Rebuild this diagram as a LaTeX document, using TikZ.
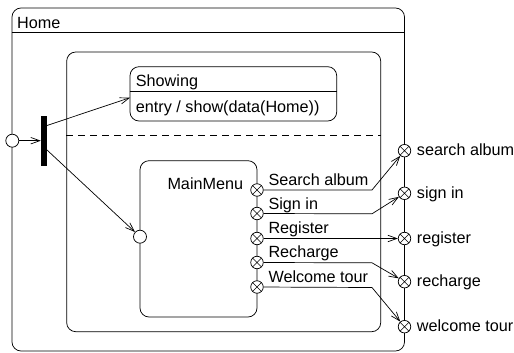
\documentclass[tikz,border=0pt]{standalone}
\usepackage{fontspec}
\setmainfont{Liberation Sans}
\usetikzlibrary{arrows.meta}
\tikzset{
  statebox/.style={draw, rounded corners=9pt, inner sep=0pt, line width=0.75pt},
  pseudo/.style={draw, circle, fill=white, minimum size=13pt, inner sep=0pt, line width=0.75pt},
  exitpt/.style={draw, circle, fill=white, minimum size=12.5pt, inner sep=0pt, line width=0.75pt,
    path picture={\draw[line width=0.6pt] (path picture bounding box.north west) -- (path picture bounding box.south east)
      (path picture bounding box.north east) -- (path picture bounding box.south west);}},
  lbl/.style={anchor=base west, inner sep=0pt, font=\fontsize{16.2}{19}\selectfont},
  trans/.style={line width=0.7pt, -{Straight Barb[length=9pt,width=6.5pt]}},
  wire/.style={line width=0.7pt}
}
\begin{document}
\begin{tikzpicture}[x=1pt,y=-1pt]
\useasboundingbox (0,0) rectangle (514,353);
\fill[white] (0,0) rectangle (514,353);

% composite state Home
\node[statebox, minimum width=392.5pt, minimum height=343pt] (home) at (208.25,179.5) {};
\coordinate (hdr) at (0,32);
\draw[line width=0.75pt] (home.west |- hdr) -- (home.east |- hdr);
\node[lbl] (homelbl) at (17,28.3) {Home};

% orthogonal region container
\node[statebox, minimum width=314pt, minimum height=279.7pt] (region) at (223.7,191.85) {};
\coordinate (dsh) at (0,135.7);
\draw[line width=0.75pt, dash pattern=on 7pt off 5pt] (region.west |- dsh) -- (region.east |- dsh);

% state Showing
\node[statebox, minimum width=206.7pt, minimum height=54.3pt] (showing) at (233.35,93.85) {};
\coordinate (sdiv) at (0,91.7);
\draw[line width=0.75pt] (showing.west |- sdiv) -- (showing.east |- sdiv);
\node[lbl] (showname) at (135.7,86.7) {Showing};
\node[lbl] (showentry) at (135.7,112.7) {entry / show(data(Home))};

% submachine state MainMenu
\node[statebox, minimum width=117pt, minimum height=156.3pt] (mainmenu) at (198.5,238.85) {};
\node[lbl] (mmname) at (167.3,189) {MainMenu};

% initial pseudostates and fork
\node[pseudo] (init) at (12.3,140.7) {};
\node[fill=black, minimum width=6pt, minimum height=50pt, inner sep=0pt] (fork) at (44,140.7) {};
\node[pseudo] (mminit) at (140,236.7) {};

\draw[trans] (init) -- (fork);
\coordinate (fa) at (47,125.5);
\coordinate (fb) at (47,150);
\coordinate (sin) at (130,97.7);
\draw[trans] (fa) -- (sin);
\draw[trans] (fb) -- (mminit);

% exit points of MainMenu
\node[exitpt] (m1) at (257,190) {};
\node[exitpt] (m2) at (257,213.5) {};
\node[exitpt] (m3) at (257,238.5) {};
\node[exitpt] (m4) at (257,262.5) {};
\node[exitpt] (m5) at (257,287) {};

\node[lbl] (l1) at (268.3,185) {Search album};
\node[lbl] (l2) at (268.3,209) {Sign in};
\node[lbl] (l3) at (268.3,233.5) {Register};
\node[lbl] (l4) at (268.3,257.5) {Recharge};
\node[lbl] (l5) at (268.3,282) {Welcome tour};

% exit points of Home
\node[exitpt] (o1) at (404.5,150.7) {};
\node[exitpt] (o2) at (404.5,193.3) {};
\node[exitpt] (o3) at (404.5,238.5) {};
\node[exitpt] (o4) at (404.5,281.7) {};
\node[exitpt] (o5) at (404.5,326.7) {};

\node[lbl] (r1) at (416.7,155.7) {search album};
\node[lbl] (r2) at (416.7,198.3) {sign in};
\node[lbl] (r3) at (416.7,243.5) {register};
\node[lbl] (r4) at (416.7,286.7) {recharge};
\node[lbl] (r5) at (416.7,331.7) {welcome tour};

% transitions between exit points
\coordinate (k1) at (372,190);
\coordinate (k2) at (372,213.8);
\coordinate (k4) at (372,262.8);
\coordinate (k5) at (372,287.5);
\draw[trans] (m1) -- (k1) -- (o1);
\draw[trans] (m2) -- (k2) -- (o2);
\draw[trans] (m3) -- (o3);
\draw[trans] (m4) -- (k4) -- (o4);
\draw[trans] (m5) -- (k5) -- (o5);
\end{tikzpicture}
\end{document}
